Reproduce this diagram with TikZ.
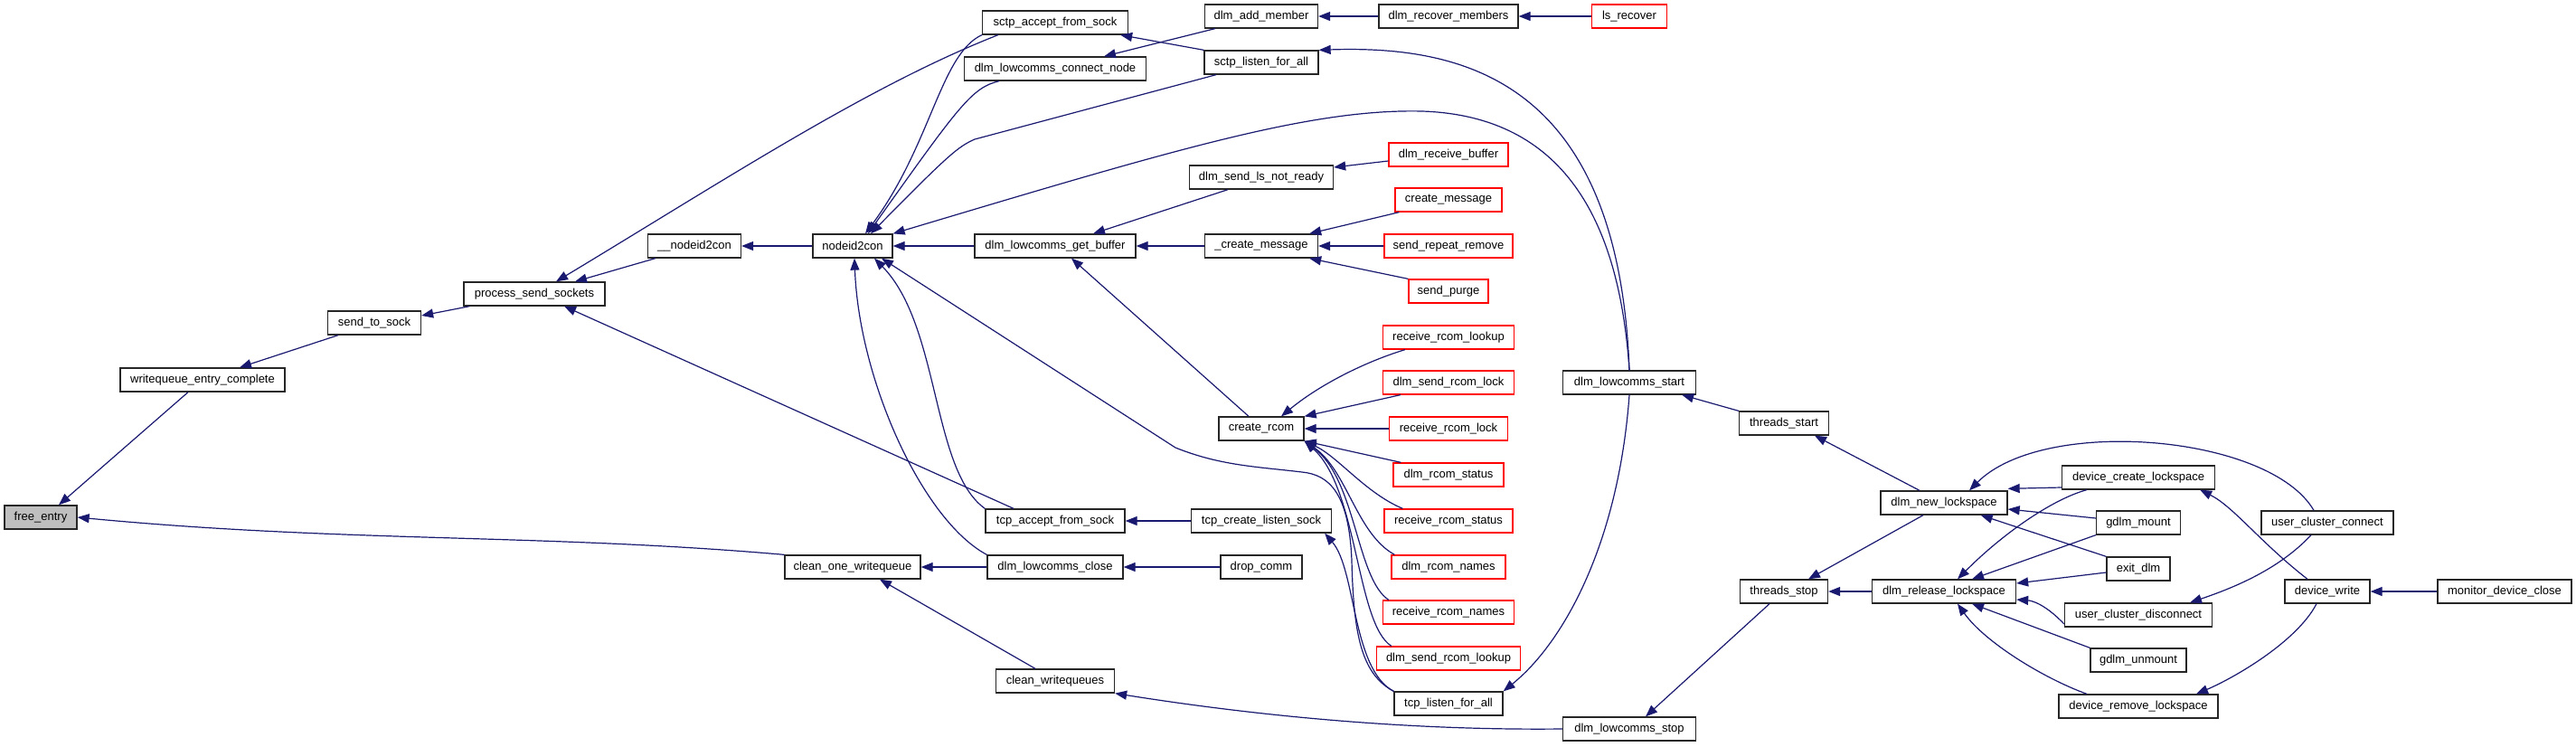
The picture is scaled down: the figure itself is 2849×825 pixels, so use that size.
\documentclass[tikz,border=0pt]{standalone}
\usepackage{fontspec}
\setmainfont{Liberation Sans}
\usetikzlibrary{arrows.meta}
\definecolor{edgeblue}{HTML}{191970}
\definecolor{boxgray}{HTML}{BFBFBF}
\tikzset{
  box/.style={draw=black!85, line width=1.3pt, fill=white, minimum height=26pt, inner sep=0pt, font=\fontsize{13}{15}\selectfont},
  redbox/.style={box, draw=red},
  e/.style={draw=edgeblue, line width=1.2pt, -{Triangle[length=13pt,width=10pt]}},
}
\begin{document}
\begin{tikzpicture}[x=1pt,y=-1pt]
\useasboundingbox (0,0) rectangle (2849,825);
% column 1-5
\node[box, fill=boxgray, minimum width=80] (fe) at (45,572) {free\_entry};
\node[box, minimum width=182] (wec) at (224,420) {writequeue\_entry\_complete};
\node[box, minimum width=103] (sts) at (414,357) {send\_to\_sock};
\node[box, minimum width=156] (pss) at (591,325) {process\_send\_sockets};
\node[box, minimum width=103] (nn2c) at (768,272) {\_\_nodeid2con};
\node[box, minimum width=88] (n2c) at (943,272) {nodeid2con};
\node[box, minimum width=150] (cow) at (943,627) {clean\_one\_writequeue};
% column 1167
\node[box, minimum width=161] (sas) at (1167,25) {sctp\_accept\_from\_sock};
\node[box, minimum width=201] (lcn) at (1167,76) {dlm\_lowcomms\_connect\_node};
\node[box, minimum width=178] (lgb) at (1167,272) {dlm\_lowcomms\_get\_buffer};
\node[box, minimum width=154] (tas) at (1167,576) {tcp\_accept\_from\_sock};
\node[box, minimum width=150] (lcl) at (1167,627) {dlm\_lowcomms\_close};
\node[box, minimum width=131] (cwq) at (1167,753) {clean\_writequeues};
% column 1395
\node[box, minimum width=125] (am) at (1395,18) {dlm\_add\_member};
\node[box, minimum width=126] (slf) at (1395,69) {sctp\_listen\_for\_all};
\node[box, minimum width=159] (slnr) at (1395,196) {dlm\_send\_ls\_not\_ready};
\node[box, minimum width=125] (cmu) at (1395,272) {\_create\_message};
\node[box, minimum width=94] (cr) at (1395,474) {create\_rcom};
\node[box, minimum width=155] (tcls) at (1395,576) {tcp\_create\_listen\_sock};
\node[box, minimum width=90] (dc) at (1395,627) {drop\_comm};
% column 1602
\node[box, minimum width=154] (rm) at (1602,18) {dlm\_recover\_members};
\node[redbox, minimum width=132] (rb) at (1602,171) {dlm\_receive\_buffer};
\node[redbox, minimum width=118] (cmsg) at (1602,221) {create\_message};
\node[redbox, minimum width=142] (srr) at (1602,272) {send\_repeat\_remove};
\node[redbox, minimum width=88] (sp) at (1602,322) {send\_purge};
\node[redbox, minimum width=145] (rrl) at (1602,373) {receive\_rcom\_lookup};
\node[redbox, minimum width=145] (srl) at (1602,423) {dlm\_send\_rcom\_lock};
\node[redbox, minimum width=131] (rrlk) at (1602,474) {receive\_rcom\_lock};
\node[redbox, minimum width=122] (rs) at (1602,525) {dlm\_rcom\_status};
\node[redbox, minimum width=142] (rrs) at (1602,576) {receive\_rcom\_status};
\node[redbox, minimum width=126] (rn) at (1602,627) {dlm\_rcom\_names};
\node[redbox, minimum width=145] (rrn) at (1602,677) {receive\_rcom\_names};
\node[redbox, minimum width=159] (srlk) at (1602,728) {dlm\_send\_rcom\_lookup};
\node[box, minimum width=120] (tlf) at (1602,778) {tcp\_listen\_for\_all};
% column 1802
\node[redbox, minimum width=83] (lr) at (1802,18) {ls\_recover};
\node[box, minimum width=147] (lst) at (1802,423) {dlm\_lowcomms\_start};
\node[box, minimum width=147] (lsp) at (1802,806) {dlm\_lowcomms\_stop};
% right part
\node[box, minimum width=99] (ts) at (1973,468) {threads\_start};
\node[box, minimum width=97] (tsp) at (1973,654) {threads\_stop};
\node[box, minimum width=140] (nl) at (2150,556) {dlm\_new\_lockspace};
\node[box, minimum width=159] (rl) at (2150,654) {dlm\_release\_lockspace};
\node[box, minimum width=169] (dcl) at (2365,528) {device\_create\_lockspace};
\node[box, minimum width=93] (gm) at (2365,578) {gdlm\_mount};
\node[box, minimum width=70] (ed) at (2365,629) {exit\_dlm};
\node[box, minimum width=163] (ucd) at (2365,680) {user\_cluster\_disconnect};
\node[box, minimum width=106] (gu) at (2365,730) {gdlm\_unmount};
\node[box, minimum width=176] (drl) at (2365,781) {device\_remove\_lockspace};
\node[box, minimum width=146] (ucc) at (2574,578) {user\_cluster\_connect};
\node[box, minimum width=94] (dw) at (2574,654) {device\_write};
\node[box, minimum width=148] (mdc) at (2770,654) {monitor\_device\_close};

% ---- edges (caller -> callee, arrow at callee)
\draw[e] ([xshift=-16]wec.south) -- ([xshift=20]fe.north);
\draw[e] (cow.north west) .. controls (600,590) and (380,600) .. (fe.east);
\draw[e] ([xshift=-40]sts.south) -- ([xshift=41]wec.north);
\draw[e] ([xshift=7]pss.south west) -- ([yshift=8]sts.east);
\draw[e] ([xshift=9]nn2c.south west) -- ([xshift=45]pss.north);
\draw[e] ([xshift=18]sas.south west) .. controls (960,95) and (800,200) .. ([xshift=24]pss.north);
\draw[e] ([xshift=-46]tas.north) -- ([xshift=33]pss.south);
\draw[e] (n2c) -- (nn2c);
% into nodeid2con
\draw[e] (sas.south west) .. controls (1040,60) and (1030,160) .. ([xshift=14]n2c.north);
\draw[e] ([xshift=-62]lcn.south) .. controls (1075,97) and (1062,115) .. ([xshift=17]n2c.north);
\draw[e] ([xshift=-50]slf.south) -- (1078,154) .. controls (1060,162) and (1050,170) .. ([xshift=20]n2c.north);
\draw[e] (lst.north) .. controls (1790,230) and (1720,128) .. (1573,123) .. controls (1450,120) and (1300,165) .. (n2c.north east);
\draw[e] (lgb) -- (n2c);
\draw[e] (tas.north west) .. controls (1030,520) and (1040,360) .. ([xshift=24]n2c.south);
\draw[e] (lcl.north west) .. controls (1020,575) and (950,420) .. ([xshift=2]n2c.south);
\draw[e] (tlf.north west) .. controls (1505,745) and (1497,700) .. (1495,620) .. controls (1492,545) and (1470,525) .. (1440,522) .. controls (1390,516) and (1350,515) .. (1300,495) -- ([xshift=32]n2c.south);
% top group
\draw[e] ([xshift=12]am.south west) -- ([xshift=54]lcn.north);
\draw[e] (rm) -- (am);
\draw[e] (lr) -- (rm);
\draw[e] (slf.north west) -- ([xshift=-9]sas.south east);
\draw[e] (lst.north) .. controls (1790,90) and (1620,50) .. (slf.north east);
% get_buffer group
\draw[e] ([xshift=-37]slnr.south) -- ([xshift=42]lgb.north);
\draw[e] ([yshift=-7]rb.west) -- ([yshift=11]slnr.east);
\draw[e] (cmu) -- (lgb);
\draw[e] ([xshift=5]cmsg.south west) -- ([xshift=-10]cmu.north east);
\draw[e] (srr) -- (cmu);
\draw[e] (sp.north west) -- ([xshift=-10]cmu.south east);
\draw[e] ([xshift=-14]cr.north) -- ([xshift=18]lgb.south);
% create_rcom group
\draw[e] ([xshift=25]rrl.south west) .. controls (1510,400) and (1460,425) .. ([xshift=22]cr.north);
\draw[e] ([xshift=20]srl.south west) -- (cr.north east);
\draw[e] (rrlk) -- (cr);
\draw[e] ([xshift=9]rs.north west) -- (cr.south east);
\draw[e] ([xshift=21]rrs.north west) .. controls (1510,545) and (1480,505) .. (cr.south east);
\draw[e] ([xshift=4]rn.north west) .. controls (1500,590) and (1490,520) .. (cr.south east);
\draw[e] ([xshift=7]rrn.north west) .. controls (1500,640) and (1500,530) .. (cr.south east);
\draw[e] ([xshift=17]srlk.north west) .. controls (1500,690) and (1502,540) .. (cr.south east);
\draw[e] (tlf.north west) .. controls (1495,740) and (1500,630) .. ([xshift=-8]tcls.south east);
\draw[e] (tcls) -- (tas);
\draw[e] (lcl) -- (cow);
\draw[e] (dc) -- (lcl);
\draw[e] ([xshift=-22]cwq.north) -- ([xshift=30]cow.south);
\draw[e] (lst.south) .. controls (1790,600) and (1730,710) .. (tlf.north east);
\draw[e] (lsp.west) .. controls (1550,808) and (1380,790) .. (cwq.south east);
% right part
\draw[e] (ts.north west) -- ([xshift=-16]lst.south east);
\draw[e] ([xshift=-27]nl.north) -- ([xshift=34]ts.south);
\draw[e] ([xshift=-16]tsp.south) -- ([xshift=18]lsp.north);
\draw[e] (rl) -- (tsp);
\draw[e] ([xshift=-23]nl.south) -- ([xshift=27]tsp.north);
\draw[e] ([yshift=-11]dcl.west) -- ([yshift=2]nl.north east);
\draw[e] ([yshift=5]gm.west) -- ([yshift=-7]nl.east);
\draw[e] (ed.north west) -- ([xshift=-30]nl.south east);
\draw[e] ([xshift=-15]ucc.north) .. controls (2510,480) and (2260,460) .. ([xshift=28]nl.north);
\draw[e] ([xshift=28]dcl.south west) .. controls (2270,552) and (2215,590) .. ([xshift=15]rl.north);
\draw[e] (gm.south west) -- ([xshift=31]rl.north);
\draw[e] ([yshift=-4]ed.west) -- ([yshift=9]rl.east);
\draw[e] ([yshift=-10]ucd.west) .. controls (2260,666) and (2245,664) .. ([yshift=-9]rl.east);
\draw[e] (gu.north west) -- ([xshift=31]rl.south);
\draw[e] ([xshift=-57]drl.north) .. controls (2260,750) and (2195,710) .. ([xshift=15]rl.south);
\draw[e] ([xshift=-22]dw.north) .. controls (2500,600) and (2470,560) .. ([xshift=-17]dcl.south east);
\draw[e] ([xshift=-18]ucc.south) .. controls (2520,630) and (2470,650) .. ([xshift=57]ucd.north);
\draw[e] ([xshift=-12]dw.south) .. controls (2540,710) and (2470,750) .. ([xshift=64]drl.north);
\draw[e] (mdc) -- (dw);
\end{tikzpicture}
\end{document}
